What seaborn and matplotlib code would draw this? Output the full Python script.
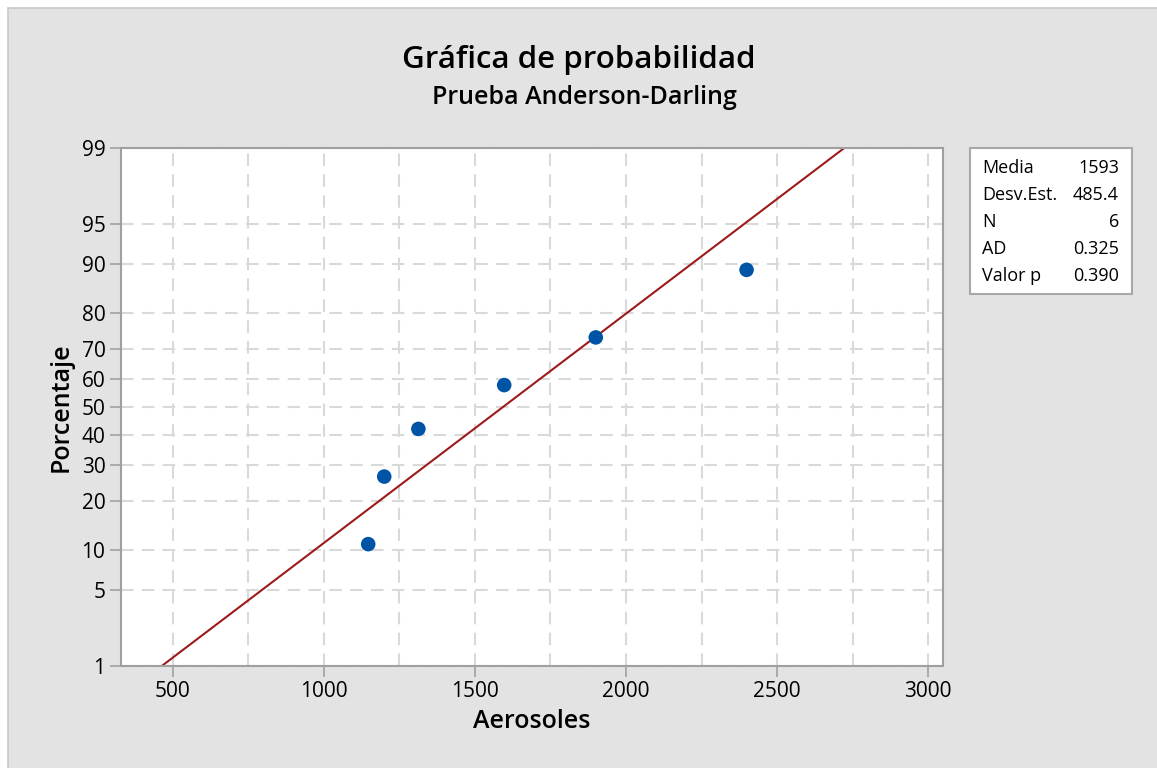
import numpy as np
import pandas as pd
import seaborn as sns
import matplotlib
matplotlib.use('Agg')
import matplotlib.pyplot as plt
from matplotlib.patches import Rectangle
from matplotlib.ticker import NullLocator
from statistics import NormalDist

# Data
aerosoles = [1147, 1200, 1313, 1597, 1900, 2399]
porcentaje = [10.9, 26.6, 42.2, 57.8, 73.4, 89.1]
media = 1593
desv_est = 485.4
y_ticks = [1, 5, 10, 20, 30, 40, 50, 60, 70, 80, 90, 95, 99]
x_ticks = [500, 1000, 1500, 2000, 2500, 3000]
x_minor = [750, 1250, 1750, 2250, 2750]
stat_labels = ['Media', 'Desv.Est.', 'N', 'AD', 'Valor p']
stat_values = ['1593', '485.4', '6', '0.325', '0.390']

df = pd.DataFrame({'Aerosoles': aerosoles, 'Porcentaje': porcentaje})

# fitted normal line, from 1% to 99%
fit = NormalDist(media, desv_est)
line_p = [1, 50, 99]
line_x = [fit.inv_cdf(p / 100) for p in line_p]

# normal probability scale for y
_nd = NormalDist()
_fwd = np.vectorize(lambda v: _nd.inv_cdf(v / 100), otypes=[float])
_inv = np.vectorize(lambda v: _nd.cdf(v) * 100, otypes=[float])


def fwd(p):
    p = np.clip(np.asarray(p, dtype=float), 1e-6, 100 - 1e-6)
    return _fwd(p)


def inv(z):
    return _inv(np.asarray(z, dtype=float))


sns.set_theme(style='white')
plt.rcParams['font.family'] = ['Open Sans', 'DejaVu Sans']
plt.rcParams['text.color'] = 'black'
plt.rcParams['axes.labelcolor'] = 'black'

fig = plt.figure(figsize=(11.57, 7.68), dpi=100, facecolor='white')
fig.add_artist(Rectangle((8 / 1157, -0.1), 1.1, 1.1 - 8 / 768, transform=fig.transFigure,
                         facecolor='#e3e3e3', edgecolor='#c8c8c8', lw=1.2, zorder=-10))

ax = fig.add_axes([120.7 / 1157, 1 - 666 / 768, 822 / 1157, 518 / 768])
ax.set_facecolor('white')

sns.lineplot(x=line_x, y=line_p, ax=ax, color='#9e1a1a', lw=1.5, zorder=2)
sns.scatterplot(data=df, x='Aerosoles', y='Porcentaje', ax=ax, s=110,
                color='#0054a6', edgecolor='none', zorder=3)

ax.set_yscale('function', functions=(fwd, inv))
ax.set_ylim(1, 99)
ax.set_xlim(328, 3048)
ax.set_yticks(y_ticks)
ax.set_yticklabels([str(t) for t in y_ticks])
ax.yaxis.set_minor_locator(NullLocator())
ax.set_xticks(x_ticks)
ax.set_xticklabels([str(t) for t in x_ticks])
ax.set_xticks(x_minor, minor=True)

ax.grid(True, which='both', color='#d9d9d9', lw=1.5, linestyle=(0, (6, 4)))
ax.set_axisbelow(True)
for s in ax.spines.values():
    s.set_color('#a0a0a0')
    s.set_linewidth(1.5)
ax.tick_params(axis='both', which='major', direction='out', length=8, width=1.2,
               color='#a0a0a0', labelsize=15, labelcolor='black', pad=3,
               left=True, bottom=True)
ax.tick_params(axis='both', which='minor', length=0)

ax.set_xlabel('Aerosoles', fontsize=18, fontweight='semibold', labelpad=5)
ax.set_ylabel('Porcentaje', fontsize=18, fontweight='semibold', labelpad=6)

fig.text(0.5, 1 - 60 / 768, 'Gráfica de probabilidad', ha='center', va='center',
         fontsize=22.5, fontweight='semibold')
fig.text(0.505, 1 - 98 / 768, 'Prueba Anderson-Darling', ha='center', va='center',
         fontsize=18, fontweight='semibold')

# stats box
fig.add_artist(Rectangle((970 / 1157, 1 - 294 / 768), 162 / 1157, 146 / 768,
                         transform=fig.transFigure, facecolor='white',
                         edgecolor='#a8a8a8', lw=1.5))
for i, (lab, val) in enumerate(zip(stat_labels, stat_values)):
    yy = 1 - (168 + 27 * i) / 768
    fig.text(982 / 1157, yy, lab, ha='left', va='center', fontsize=13)
    fig.text(1119 / 1157, yy, val, ha='right', va='center', fontsize=13)

fig.savefig('out.png', dpi=100, facecolor=fig.get_facecolor())
